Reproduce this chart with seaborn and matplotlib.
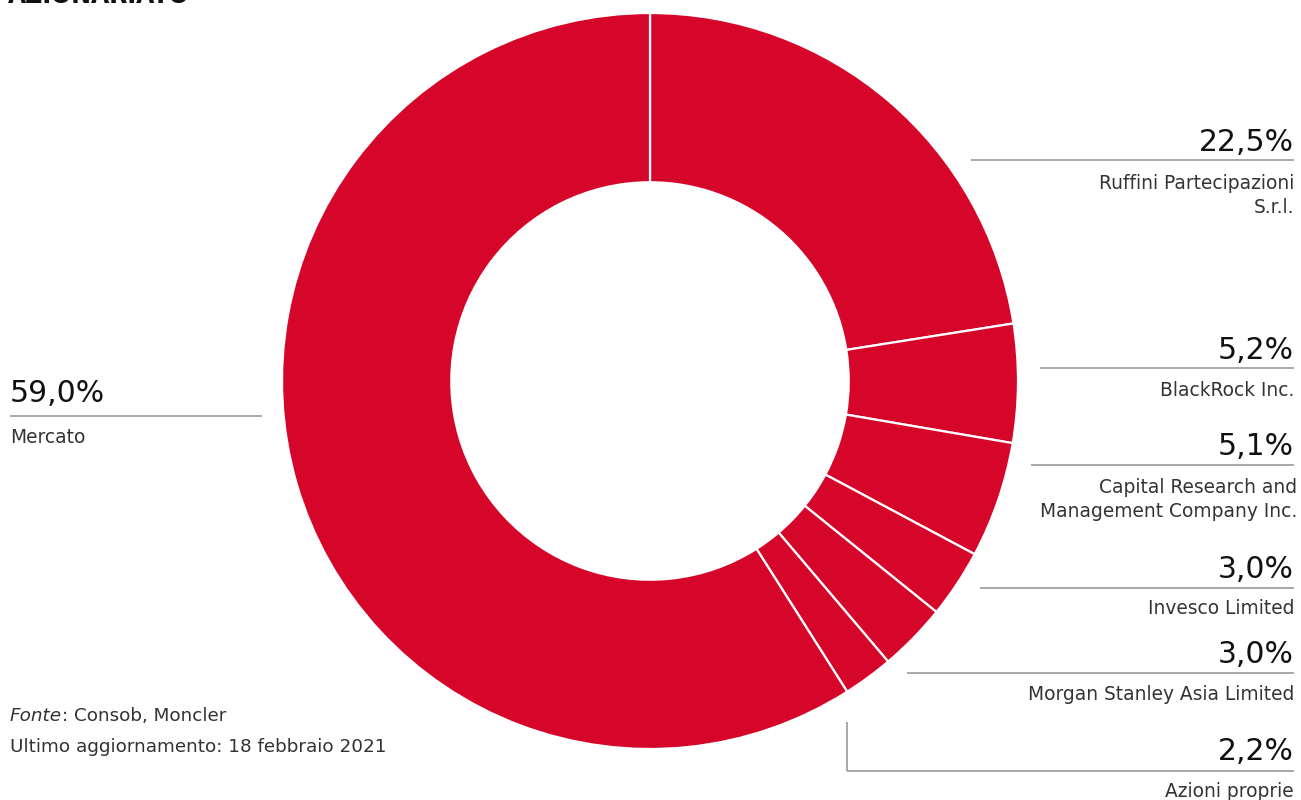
import matplotlib
matplotlib.use("Agg")
import matplotlib.pyplot as plt
import seaborn as sns

# ---- data ----
shareholders = ["Ruffini Partecipazioni\nS.r.l.", "BlackRock Inc.",
                "Capital Research and\nManagement Company Inc.", "Invesco Limited",
                "Morgan Stanley Asia Limited", "Azioni proprie", "Mercato"]
shares = [22.5, 5.2, 5.1, 3.0, 3.0, 2.2, 59.0]
title = "AZIONARIATO"
source_lines = ["Consob, Moncler", "Ultimo aggiornamento: 18 febbraio 2021"]

# ---- layout (pixels) ----
W, H = 1301, 800
RED = "#D6062B"
GREY_LINE = "#9a9a9a"
TXT = "#333333"
# right-side annotation: (pct baseline y, rule y, rule x-start, first name baseline y)
right_layout = [(151, 160, 971, 189), (359, 368, 1040, 396), (455, 465, 1031, 493),
                (578, 588, 980, 614), (663, 673, 907, 700), (760, 771, 847, 797)]

sns.set_theme(style="white")
plt.rcParams["font.family"] = ["DejaVu Sans"]

fig = plt.figure(figsize=(W / 100, H / 100), dpi=100)
cx, cy, R = 650, 381, 368
ax = fig.add_axes([(cx - R) / W, (H - cy - R) / H, 2 * R / W, 2 * R / H])
ax.pie(shares, startangle=90, counterclock=False, radius=1.0,
       colors=[RED] * len(shares),
       wedgeprops=dict(width=0.46, edgecolor="white", linewidth=1.6))
ax.set_xlim(-1, 1)
ax.set_ylim(-1, 1)
ax.set_aspect("equal")
ax.axis("off")

ov = fig.add_axes([0, 0, 1, 1], facecolor="none")
ov.set_xlim(0, W)
ov.set_ylim(H, 0)
ov.axis("off")

def fmt(v):
    return f"{v:.1f}".replace(".", ",") + "%"

PCT_FS = 21.5
NAME_FS = 13.4
SRC_FS = 13.2
XR = 1294
for i, (pb, ry, rx, nb) in enumerate(right_layout):
    ov.text(XR, pb, fmt(shares[i]), ha="right", va="baseline",
            fontsize=PCT_FS, color="#111111")
    ov.plot([rx, XR], [ry, ry], color=GREY_LINE, lw=1.2, solid_capstyle="butt")
    for j, line in enumerate(shareholders[i].split("\n")):
        ov.text(XR + (3 if i == 2 else 0), nb + j * 24, line, ha="right", va="baseline",
                fontsize=NAME_FS, color=TXT)

# vertical connector for the last small slice
ov.plot([847, 847], [722, 771], color=GREY_LINE, lw=1.2, solid_capstyle="butt")

# left annotation (Mercato)
ov.text(10, 402, fmt(shares[-1]), ha="left", va="baseline", fontsize=PCT_FS, color="#111111")
ov.plot([10, 262], [416, 416], color=GREY_LINE, lw=1.2, solid_capstyle="butt")
ov.text(10, 443, shareholders[-1], ha="left", va="baseline", fontsize=NAME_FS, color=TXT)

# title (cut off at the top edge, as in the reference)
ov.text(8, 3, title, ha="left", va="baseline", fontsize=17, fontweight="bold", color="#111111")

# source notes
t = ov.text(10, 721, "Fonte", ha="left", va="baseline", fontsize=SRC_FS, style="italic", color=TXT)
fig.canvas.draw()
bb = t.get_window_extent()
ov.text(10 + bb.width, 721, ": " + source_lines[0], ha="left", va="baseline", fontsize=SRC_FS, color=TXT)
ov.text(10, 752, source_lines[1], ha="left", va="baseline", fontsize=SRC_FS, color=TXT)

fig.savefig("out.png", dpi=100)
